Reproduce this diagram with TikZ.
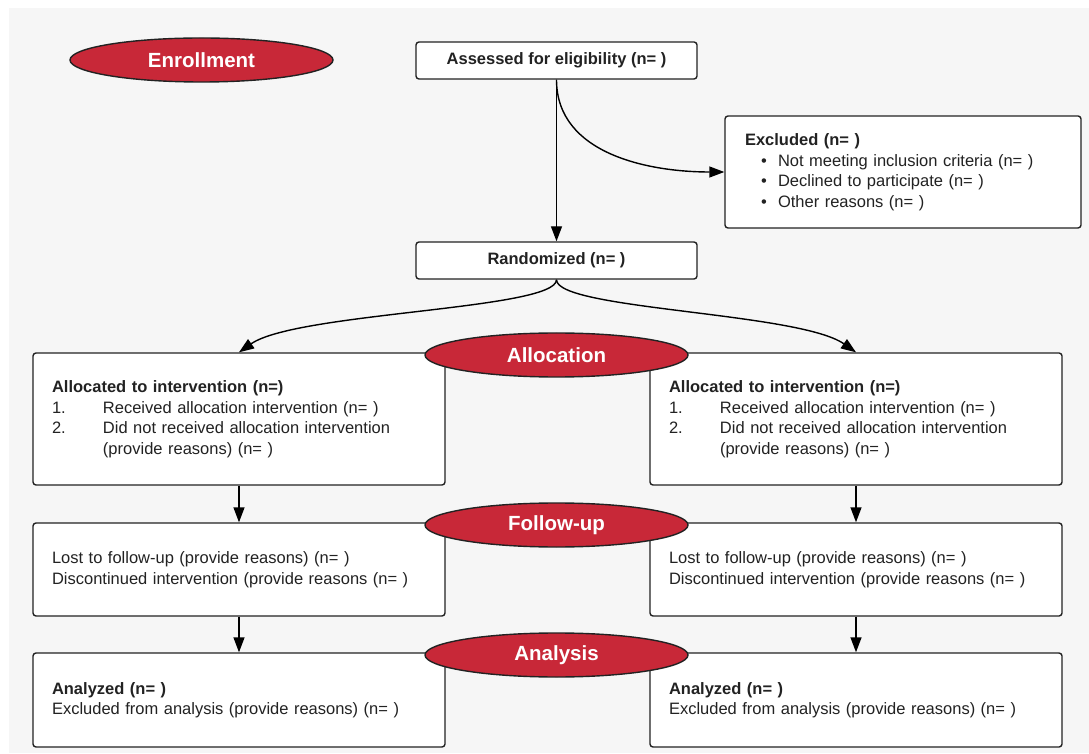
\documentclass[tikz,border=0pt]{standalone}
\usepackage{fontspec}
\setmainfont{Liberation Sans}
\usetikzlibrary{arrows.meta,shapes}
\definecolor{phasered}{RGB}{200,40,56}
\definecolor{bggray}{RGB}{246,246,246}
\definecolor{inkgray}{RGB}{34,34,34}
\tikzstyle{boxstyle}=[rectangle, draw=inkgray, line width=1.4pt, rounded
corners=3pt, fill=white, text=inkgray, inner xsep=19pt, inner ysep=0pt,
align=left, font=\fontsize{16.5}{20.5}\selectfont]
\tikzstyle{headstyle}=[boxstyle, align=center, minimum width=281pt,
minimum height=37pt, font=\fontsize{16.5}{20.5}\selectfont\bfseries]
\tikzstyle{phasestyle}=[ellipse, draw=inkgray, line width=1.4pt,
fill=phasered, text=white, inner sep=0pt, minimum width=263pt,
minimum height=44pt, font=\fontsize{20.5}{24}\selectfont\bfseries]
\tikzstyle{arrowstyle}=[->, >={Triangle[length=15pt,width=11pt]},
line width=1.4pt, draw=black]

\begin{document}
\begin{tikzpicture}[x=1pt,y=1pt]
\useasboundingbox (0,0) rectangle (1089,753);
\fill[bggray] (9,0) rectangle (1089,745);

% Enrollment
\path (556.5,692.5) node[headstyle] (assess) {Assessed for eligibility (n= )};
\path (903,581) node[boxstyle, minimum width=356pt, minimum height=112pt,
	inner xsep=20pt, text width=316pt] (excl)
	{\textbf{Excluded (n= )}\\
	\hspace*{16pt}\makebox[17pt][l]{\textbullet}Not meeting inclusion criteria (n= )\\
	\hspace*{16pt}\makebox[17pt][l]{\textbullet}Declined to participate (n= )\\
	\hspace*{16pt}\makebox[17pt][l]{\textbullet}Other reasons (n= )};
\path (556.5,492.5) node[headstyle] (rand) {Randomized (n= )};

\draw[arrowstyle] (assess) -- (rand);
\draw[arrowstyle] (assess.south) to[out=-90, in=180] (excl.west);

% Allocation
\path (239,334) node[boxstyle, minimum width=412pt, minimum height=132pt,
	text width=374pt] (allocL)
	{\textbf{Allocated to intervention (n=)}\\
	\makebox[51pt][l]{1.}Received allocation intervention (n= )\\
	\makebox[51pt][l]{2.}Did not received allocation intervention\\
	\hspace*{51pt}(provide reasons) (n= )};
\path (856,334) node[boxstyle, minimum width=412pt, minimum height=132pt,
	text width=374pt] (allocR)
	{\textbf{Allocated to intervention (n=)}\\
	\makebox[51pt][l]{1.}Received allocation intervention (n= )\\
	\makebox[51pt][l]{2.}Did not received allocation intervention\\
	\hspace*{51pt}(provide reasons) (n= )};

\draw[arrowstyle] (rand.south) to[out=-90, in=35, out distance=30pt,
	in distance=70pt] (allocL.north);
\draw[arrowstyle] (rand.south) to[out=-90, in=145, out distance=30pt,
	in distance=70pt] (allocR.north);

% Follow-up
\path (239,183.5) node[boxstyle, minimum width=412pt, minimum height=93pt,
	text width=374pt] (folL)
	{Lost to follow-up (provide reasons) (n= )\\
	Discontinued intervention (provide reasons (n= )};
\path (856,183.5) node[boxstyle, minimum width=412pt, minimum height=93pt,
	text width=374pt] (folR)
	{Lost to follow-up (provide reasons) (n= )\\
	Discontinued intervention (provide reasons (n= )};

\draw[arrowstyle] (allocL) -- (folL);
\draw[arrowstyle] (allocR) -- (folR);

% Analysis
\path (239,53) node[boxstyle, minimum width=412pt, minimum height=94pt,
	text width=374pt] (anaL)
	{\textbf{Analyzed (n= )}\\
	Excluded from analysis (provide reasons) (n= )};
\path (856,53) node[boxstyle, minimum width=412pt, minimum height=94pt,
	text width=374pt] (anaR)
	{\textbf{Analyzed (n= )}\\
	Excluded from analysis (provide reasons) (n= )};

\draw[arrowstyle] (folL) -- (anaL);
\draw[arrowstyle] (folR) -- (anaR);

% Phase labels
\path (201.5,693) node[phasestyle] (enroll) {Enrollment};
\path (556.5,398) node[phasestyle] (allocation) {Allocation};
\path (556.5,228) node[phasestyle] (followup) {Follow-up};
\path (556.5,98) node[phasestyle] (analysis) {Analysis};

\end{tikzpicture}
\end{document}
